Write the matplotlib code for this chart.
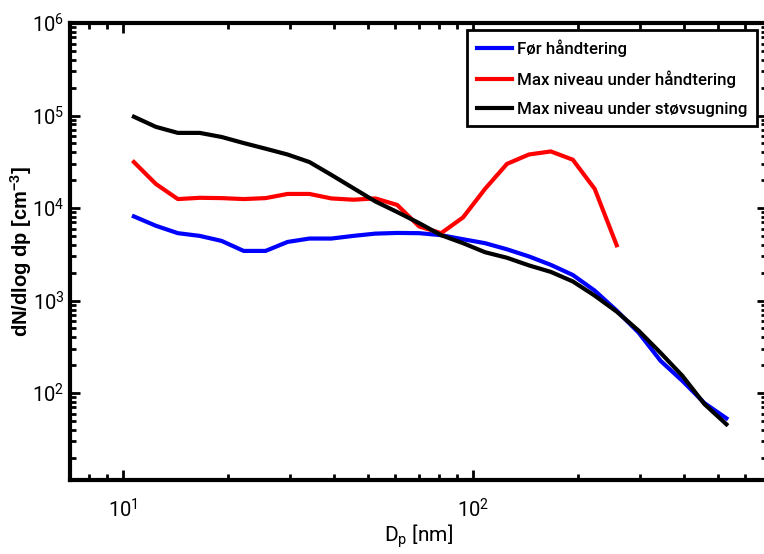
import matplotlib
matplotlib.use("Agg")
import matplotlib.pyplot as plt
from matplotlib.ticker import LogLocator, NullFormatter

# particle diameters [nm]
dp = [10.75, 12.42, 14.35, 16.57, 19.14, 22.12, 25.55, 29.52, 34.10, 39.39,
      45.51, 52.57, 60.74, 70.17, 81.06, 93.65, 108.2, 125.0, 144.4, 166.8,
      192.7, 222.6, 257.2, 297.2, 343.3, 396.6, 458.2, 529.2]

foer = [8120, 6430, 5350, 5000, 4410, 3440, 3440, 4300, 4680, 4680,
        5000, 5290, 5380, 5350, 5090, 4600, 4170, 3580, 3000, 2430,
        1890, 1280, 778, 449, 223, 135, 77.8, 53.4]

haandtering = [31400, 18200, 12500, 12900, 12800, 12500, 12800, 14200, 14200, 12700,
               12300, 12700, 10800, 6320, 5350, 7920, 16100, 30000, 37900, 40900,
               33300, 16100, 3960]

stoevsugning = [97000, 75400, 64900, 64900, 58600, 50400, 43800, 37900, 31400, 22800,
                16400, 11800, 9050, 6870, 5090, 4170, 3330, 2900, 2400, 2040,
                1610, 1130, 759, 472, 272, 153, 75.9, 46]

labels = ["Før håndtering", "Max niveau under håndtering", "Max niveau under støvsugning"]

plt.rcParams['font.family'] = ['Roboto', 'DejaVu Sans']
plt.rcParams['mathtext.fontset'] = 'custom'
plt.rcParams['mathtext.rm'] = 'Roboto'
plt.rcParams['mathtext.bf'] = 'Liberation Sans:bold'
plt.rcParams['mathtext.default'] = 'regular'

fig = plt.figure(figsize=(7.64, 5.54), dpi=100)
ax = fig.add_axes([0.0916, 0.1336, 0.912, 0.8249])

ax.plot(dp, foer, color='#0000ff', lw=3, label=labels[0])
ax.plot(dp[:len(haandtering)], haandtering, color='#ff0000', lw=3, label=labels[1])
ax.plot(dp, stoevsugning, color='black', lw=3, label=labels[2])

ax.set_xscale('log')
ax.set_yscale('log')
ax.set_xlim(7.06, 690)
ax.set_ylim(11.5, 1e6)

ax.yaxis.set_major_locator(LogLocator(base=10, numticks=10))
ax.yaxis.set_minor_locator(LogLocator(base=10, subs=range(2, 10), numticks=20))
ax.yaxis.set_minor_formatter(NullFormatter())
ax.xaxis.set_minor_formatter(NullFormatter())

for s in ax.spines.values():
    s.set_linewidth(3)
ax.tick_params(which='both', direction='in', top=True, right=True, width=2)
ax.tick_params(which='major', length=7, labelsize=14.5)
ax.tick_params(axis='x', which='major', pad=13)
ax.tick_params(axis='y', which='major', pad=4)
ax.tick_params(which='minor', length=4)

ax.set_xlabel('$D_p$ [nm]', fontsize=15)
ax.xaxis.set_label_coords(0.5, -0.093)
ax.set_ylabel('dN/dlog dp [cm$\\mathbf{^{-3}}$]', fontsize=14.5, fontweight='bold',
              family=['Liberation Sans', 'DejaVu Sans'])
ax.yaxis.set_label_coords(-0.052, 0.5)

leg = ax.legend(loc='upper right', bbox_to_anchor=(757 / 764, 1 - 30 / 554),
                bbox_transform=fig.transFigure, borderaxespad=0, fancybox=False,
                edgecolor='black', framealpha=1,
                prop={'family': ['Roboto', 'DejaVu Sans'], 'size': 12.2, 'weight': 'medium'},
                handlelength=2.1, labelspacing=0.8, handletextpad=0.3, borderpad=0.55)
leg.get_frame().set_linewidth(2)

fig.savefig('out.png', dpi=100)
